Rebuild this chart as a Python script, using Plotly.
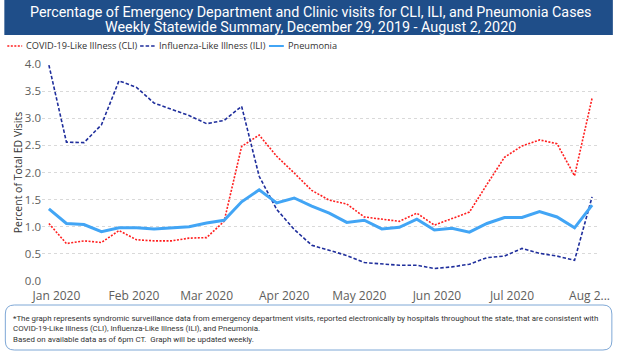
import plotly.graph_objects as go
import pandas as pd

# ---- data ----
week_start = "2019-12-29"
n_weeks = 32
weeks = pd.date_range(week_start, periods=n_weeks, freq="7D")

cli = [1.06, 0.69, 0.74, 0.71, 0.93, 0.76, 0.74, 0.74, 0.79, 0.80, 1.10, 2.48,
       2.69, 2.30, 1.99, 1.67, 1.49, 1.42, 1.18, 1.14, 1.10, 1.25, 1.03, 1.15,
       1.27, 1.78, 2.28, 2.49, 2.60, 2.53, 1.94, 3.37]
ili = [3.98, 2.56, 2.55, 2.88, 3.69, 3.57, 3.28, 3.16, 3.05, 2.90, 2.96, 3.22,
       1.93, 1.32, 0.95, 0.66, 0.57, 0.47, 0.34, 0.31, 0.29, 0.29, 0.23, 0.26,
       0.31, 0.43, 0.46, 0.60, 0.51, 0.46, 0.38, 1.55]
pneumonia = [1.33, 1.06, 1.04, 0.91, 0.98, 0.98, 0.96, 0.98, 1.00, 1.07, 1.12, 1.46,
             1.68, 1.44, 1.53, 1.38, 1.25, 1.08, 1.12, 0.96, 0.99, 1.14, 0.94, 0.97,
             0.90, 1.06, 1.17, 1.17, 1.28, 1.18, 0.98, 1.40]

series_names = ["COVID-19-Like Illness (CLI)", "Influenza-Like Illness (ILI)", "Pneumonia"]
month_ticks = ["2020-01-01", "2020-02-01", "2020-03-01", "2020-04-01",
               "2020-05-01", "2020-06-01", "2020-07-01", "2020-08-01"]
month_labels = ["Jan 2020", "Feb 2020", "Mar 2020", "Apr 2020",
                "May 2020", "Jun 2020", "Jul 2020", "Aug 2..."]
y_ticks = [0.0, 0.5, 1.0, 1.5, 2.0, 2.5, 3.0, 3.5, 4.0]

title_lines = ["Percentage of Emergency Department and Clinic visits for CLI, ILI, and Pneumonia Cases",
               "Weekly Statewide Summary, December 29, 2019 - August 2, 2020"]
footnote_lines = [
    "*The graph represents syndromic surveillance data from emergency department visits, reported electronically by hospitals throughout the state, that are consistent with",
    "COVID-19-Like Illness (CLI), Influenza-Like Illness (ILI), and Pneumonia.",
    "Based on available data as of 6pm CT.  Graph will be updated weekly.",
]

# ---- styles ----
colors = ["#FF1F1F", "#1F2E9C", "#42A5F5"]
dashes = ["2px,1.5px", "3.5px,2px", "solid"]
widths = [1.6, 1.6, 3]

W, H = 622, 352
L, R, T, B = 42, 20, 64, 71
PW, PH = W - L - R, H - T - B


def px(x):
    return (x - L) / PW


def py(y):
    return (H - B - y) / PH


fig = go.Figure()
for name, vals, c, d, w in zip(series_names, [cli, ili, pneumonia], colors, dashes, widths):
    fig.add_trace(go.Scatter(x=weeks, y=vals, name=name, mode="lines",
                             line=dict(color=c, dash=d, width=w), showlegend=False))

shapes = []
annotations = []

# title banner
shapes.append(dict(type="rect", xref="paper", yref="paper", x0=px(4), x1=px(618),
                   y0=py(35), y1=py(0), fillcolor="#1F4E89", line=dict(width=0), layer="below"))
for txt, yy in zip(title_lines, [11.5, 27]):
    annotations.append(dict(text=txt, xref="paper", yref="paper", x=px(313), y=py(yy),
                            xanchor="center", yanchor="middle", showarrow=False,
                            font=dict(family="Roboto", size=14.3, color="white")))

# legend
leg_x = [7, 141, 271]
for name, c, d, w, lx in zip(series_names, colors, dashes, widths, leg_x):
    shapes.append(dict(type="line", xref="paper", yref="paper", x0=px(lx), x1=px(lx + 15),
                       y0=py(46), y1=py(46), line=dict(color=c, dash=d, width=min(w, 2))))
    annotations.append(dict(text=name, xref="paper", yref="paper", x=px(lx + 17), y=py(46),
                            xanchor="left", yanchor="middle", showarrow=False,
                            font=dict(family="Open Sans", size=9.2, color="#333333")))

# footnote box (rounded rect)
x0, x1, y0, y1, r = 5, 617, 305, 350, 9
pts = [("M", x0 + r, y0), ("L", x1 - r, y0), ("Q", x1, y0, x1, y0 + r), ("L", x1, y1 - r),
       ("Q", x1, y1, x1 - r, y1), ("L", x0 + r, y1), ("Q", x0, y1, x0, y1 - r),
       ("L", x0, y0 + r), ("Q", x0, y0, x0 + r, y0)]
path = ""
for p in pts:
    if p[0] == "Q":
        path += f"Q{px(p[1])},{py(p[2])} {px(p[3])},{py(p[4])} "
    else:
        path += f"{p[0]}{px(p[1])},{py(p[2])} "
path += "Z"
shapes.append(dict(type="path", xref="paper", yref="paper", path=path,
                   line=dict(color="#7FA8D6", width=1)))
for txt, yy in zip(footnote_lines, [318, 328.5, 339]):
    annotations.append(dict(text=txt, xref="paper", yref="paper", x=px(11), y=py(yy),
                            xanchor="left", yanchor="middle", showarrow=False,
                            font=dict(family="Roboto", size=7.9, color="#333333")))

fig.update_layout(
    width=W, height=H,
    margin=dict(l=L, r=R, t=T, b=B, pad=0),
    paper_bgcolor="white", plot_bgcolor="white",
    shapes=shapes, annotations=annotations,
    showlegend=False,
    font=dict(family="Open Sans", color="#605E5C"),
    xaxis=dict(type="date", range=["2019-12-26 05:45", "2020-08-03 23:15"],
               tickvals=month_ticks, ticktext=month_labels, showgrid=False,
               zeroline=False, showline=False, ticks="", ticklabelstandoff=6,
               tickfont=dict(size=12, color="#605E5C")),
    yaxis=dict(range=[0, 4.0], tickvals=y_ticks, ticktext=[f"{v:.1f}" for v in y_ticks],
               showgrid=True, gridcolor="#D9D9D9", griddash="dot", gridwidth=1,
               zeroline=False, showline=False, ticks="",
               tickfont=dict(size=11.5, color="#605E5C"),
               title=dict(text="Percent of Total ED Visits", standoff=0,
                          font=dict(size=10.5, color="#333333"))),
)

fig.write_html("out.html")
